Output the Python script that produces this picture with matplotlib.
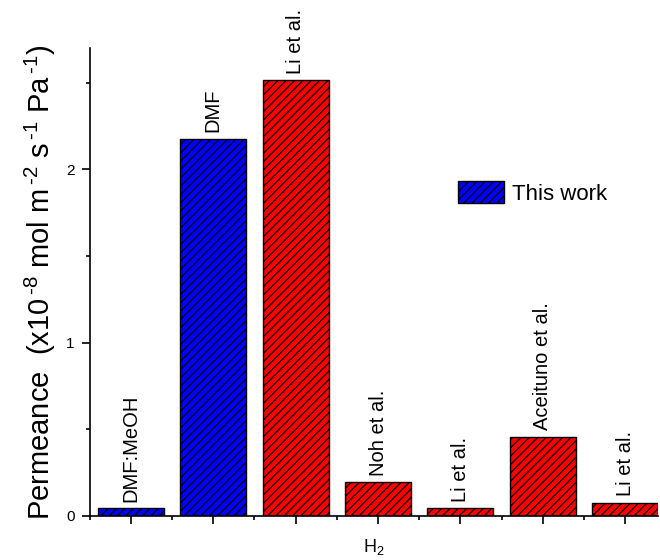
import matplotlib
matplotlib.use("Agg")
import matplotlib.pyplot as plt
from matplotlib.patches import Patch
from matplotlib.ticker import MultipleLocator, FixedLocator

plt.rcParams['font.family'] = ['Liberation Sans', 'DejaVu Sans']
plt.rcParams['hatch.linewidth'] = 0.9

# H2 permeance, x10^-8 mol m^-2 s^-1 Pa^-1
labels = ["DMF:MeOH", "DMF", "Li et al.", "Noh et al.", "Li et al.", "Aceituno et al.", "Li et al."]
values = [0.044, 2.177, 2.513, 0.194, 0.046, 0.457, 0.077]
this_work = [True, True, False, False, False, False, False]

fig = plt.figure(figsize=(6.6, 5.6), dpi=100)
ax = fig.add_axes([0.136, 0.0786, 0.861, 0.836])

x = list(range(len(values)))
colors = ["#0000FF" if t else "#FF0000" for t in this_work]
bars = ax.bar(x, values, width=0.8, color=colors, edgecolor="black",
              linewidth=1.0, hatch="////")

for xi, v, lab in zip(x, values, labels):
    ax.annotate(lab, (xi, v), xytext=(0, 4.5), textcoords="offset points",
                rotation=90, ha="center", va="bottom", fontsize=14.5)

ax.set_xlim(-0.5, 6.4)
ax.set_ylim(0, 2.7)

for s in ("top", "right"):
    ax.spines[s].set_visible(False)
ax.spines["left"].set_linewidth(1.2)
ax.spines["bottom"].set_linewidth(1.2)

ax.xaxis.set_major_locator(FixedLocator(x))
ax.xaxis.set_minor_locator(FixedLocator([i + 0.5 for i in range(-1, 7)]))
ax.set_xticklabels([])
ax.yaxis.set_major_locator(MultipleLocator(1))
ax.yaxis.set_minor_locator(MultipleLocator(0.5))
ax.tick_params(axis="both", which="major", direction="out", length=6, width=1.2,
               labelsize=11, pad=5)
ax.tick_params(axis="both", which="minor", direction="out", length=3, width=1.2)

hy = "\u2010"
sup = lambda s: "$^{\\,\\mathregular{%s%s}}$" % (hy, s)
ax.set_ylabel("Permeance  (x10" + sup("8") + " mol m" + sup("2") + " s" + sup("1")
              + " Pa" + sup("1") + ")", fontsize=21, labelpad=6)
ax.set_xlabel("H$_\\mathregular{2}$", fontsize=13, labelpad=4)

handle = Patch(facecolor="#0000FF", edgecolor="black", hatch="////", linewidth=1.0)
ax.legend([handle], ["This work"], loc="center left", bbox_to_anchor=(0.632, 0.69),
          frameon=False, fontsize=16, handlelength=2.1, handleheight=1.15,
          handletextpad=0.35, borderaxespad=0)

fig.savefig("out.png", dpi=100)
